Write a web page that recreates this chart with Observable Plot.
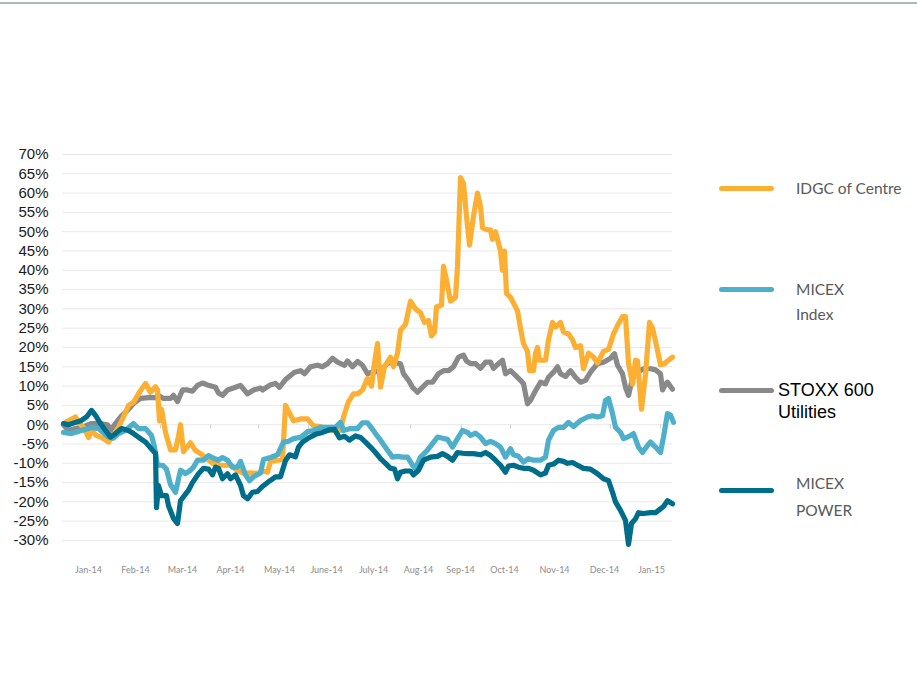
<!DOCTYPE html>
<html>
<head>
<meta charset="utf-8">
<script src="https://cdn.jsdelivr.net/npm/d3@7"></script>
<script src="https://cdn.jsdelivr.net/npm/@observablehq/plot@0.6"></script>
<style>
  html, body { margin: 0; padding: 0; background: #fff; overflow: hidden; }
  #wrap { position: relative; width: 917px; height: 681px; }
  #topline { position: absolute; left: 0; top: 2px; width: 917px; height: 2px; background: #b0b5ba; }
  .lg-line { position: absolute; left: 719px; width: 55px; height: 5px; border-radius: 3px; }
  .lg-text { position: absolute; font-family: Lato, "Open Sans", sans-serif; font-size: 15.5px; color: #595959; white-space: nowrap; }
  .lg-text2 { position: absolute; font-family: "Liberation Sans", Arial, sans-serif; font-size: 18px; color: #000; line-height: 22px; white-space: nowrap; }
</style>
</head>
<body>
<div id="wrap">
  <div id="chart"></div>
  <div id="topline"></div>
  <div id="legend"></div>
</div>
<script>
// ---- data (x = trading-day index, y = % change since start) ----
const seriesNames = ["IDGC of Centre", "MICEX Index", "STOXX 600 Utilities", "MICEX POWER"];
const seriesColors = ["#FBB034", "#4EAFCB", "#898989", "#006E8B"];

const months = ["Jan-14","Feb-14","Mar-14","Apr-14","May-14","June-14","July-14","Aug-14","Sep-14","Oct-14","Nov-14","Dec-14","Jan-15"];
const monthLabelDay = [13, 36.5, 60, 84, 108.5, 132, 155.5, 178, 199, 221, 246, 271, 294.5];
const monthTickDay = [24, 49, 74, 98, 123, 148, 174, 199.5, 224, 249, 274, 299];
const yTicks = [-30,-25,-20,-15,-10,-5,0,5,10,15,20,25,30,35,40,45,50,55,60,65,70];

const idgc = [[0.5,0.3],[3,1],[6.5,2],[8,0.5],[10.5,-0.7],[13,-3.3],[14.5,-1.5],[17,-2.8],[19.5,-3.3],[23,-4.5],[24.5,-3.5],[28,-0.7],[30.5,2],[33,5],[35.5,5.8],[38,8],[41.5,10.7],[44,8.4],[46.5,9.8],[47.5,9],[48.5,1],[49.5,4],[51.5,-2],[54,-6.5],[56.5,-6.5],[58,-3],[59,0],[60.5,-7],[64,-4.7],[66.5,-6.7],[69,-7.5],[71.5,-8.5],[75,-10],[79,-10.5],[84,-10.5],[86.5,-11.5],[90.5,-12.6],[94,-12.5],[97.5,-12.6],[100,-12],[102.5,-12.3],[104,-9.5],[110,-9],[111.5,5],[113.5,3],[115.5,1],[119,1.5],[122.5,1.5],[125.5,-0.3],[129,-0.5],[132.5,-1.5],[135.5,-1.5],[139,-1.5],[140.5,2],[143,6],[145.5,8],[147.5,8],[150,9],[152.5,12],[154.5,10],[156,16],[157.5,21],[159,9.7],[161,15],[164,17.5],[165.5,15],[167.5,18.5],[169,24.5],[171.5,26],[174,32],[176.5,30],[179,29],[181,26.5],[183,27],[184.5,23],[186,24],[187,30.5],[189.5,31],[190.5,41],[192,37.5],[194,32],[196.5,33],[197.5,41],[199,64],[200.5,62.5],[202,54],[203.5,46.5],[205.5,54],[207.5,60],[209,56.5],[210,51],[212.5,50.5],[214,50.5],[215,48],[216.5,50],[219,45],[220,40],[221,45],[222,34],[224,33],[226,31],[227.5,29.5],[229,25],[230.5,21],[232.5,19],[233.5,14],[235.5,14],[236.5,18.5],[237.5,20],[238.5,16.7],[241.5,16.7],[243,22],[245,26.5],[246.5,25.3],[249,26.5],[250.5,24],[253,23.5],[255,22],[256.5,20],[259,20.5],[260.5,14.5],[263,18.5],[265.5,17.5],[267.5,16],[270.5,19],[273,19.5],[275.5,23.5],[277.5,25.7],[280,28],[281.5,28],[283,16],[285,10.5],[286.5,16.7],[287.5,16.5],[289.5,4],[291.5,13],[293.5,26.5],[295,25],[297,20.5],[299,15.5],[301,15.8],[302.5,16.5],[305,17.5]];

const micex = [[0.5,-2],[4.5,-2.3],[9.5,-1.5],[14.5,-0.7],[18,-1],[23,-3.2],[25.5,-3.5],[28,-2.3],[31.5,-1.5],[35.5,0.3],[38,-1],[41.5,-1],[44.5,-2.8],[46,-5.8],[47.5,-10.5],[50,-10.5],[52,-11.5],[54,-15.5],[56.5,-17.5],[59,-11.8],[61.5,-12.7],[64,-11.8],[65.5,-11],[67.5,-9.2],[70.5,-9.2],[73,-8],[75.5,-8.7],[78,-9.2],[80,-8.5],[82.5,-9.2],[85,-11],[87.5,-11],[89,-9.5],[91.5,-13],[93.5,-14.5],[95.5,-13.5],[99,-12.5],[100.5,-9],[104,-8.5],[107.5,-7.8],[110.5,-4.5],[113,-4.3],[115.5,-3.6],[119,-3.3],[122.5,-1.8],[125.5,-1.5],[129,-0.7],[134,-0.7],[136.5,-0.7],[139,0.6],[140.5,-1.5],[144,-1],[147.5,-1],[150,0.5],[152.5,0.5],[154,-0.5],[156.5,-2.3],[159,-4],[162.5,-6.6],[165,-8.4],[167.5,-8.2],[170,-8.4],[172.5,-8.4],[175,-10.5],[176.5,-11.3],[179,-8.4],[182.5,-6.6],[185,-4.9],[187.5,-3.2],[190,-3.5],[192.5,-3.8],[195,-5.8],[197.5,-3.6],[200,-1.5],[202.5,-2],[204,-2.8],[206.5,-2.2],[209,-3.2],[211.5,-4.9],[214,-4.3],[216.5,-4.9],[219,-5.8],[221.5,-8.4],[224,-6.2],[225.5,-7.8],[228,-8.2],[230.5,-9.7],[233,-8.8],[235.5,-9.2],[239,-9.2],[241.5,-8.4],[243,-4],[245.5,-1.5],[248,-0.7],[250.5,-0.7],[253,0.6],[255.5,-0.5],[259,1.1],[262.5,2],[265,2.3],[267.5,2],[270,2.3],[271.5,6.3],[273,6.8],[275,2.9],[276.5,-0.7],[279,-2],[280.5,-3.6],[282.5,-3.2],[284,-2.8],[285.5,-2.3],[288,-5.8],[290,-7.2],[292.5,-5.4],[294,-4.5],[296.5,-5.8],[299,-7.2],[300.5,-3.2],[302.5,2.9],[304,2.5],[305.5,0.6]];

const stoxx = [[0.5,0],[3,-1.5],[6.5,-1],[9.5,-0.7],[14.5,0.3],[19,0.3],[22.5,0],[24,-1.5],[26.5,0.3],[29,2],[32.5,3.7],[35.5,5.5],[39,6.8],[43,7],[46.5,7],[48,7.6],[50.5,6.8],[54,6.8],[55.5,7.6],[57.5,6],[60,9],[62.5,9],[65,8.7],[67.5,10.2],[70,10.8],[73,10.2],[76.5,9.7],[78,8.2],[80,7.6],[82.5,9],[85.5,9.5],[89,10.2],[92.5,8],[95.5,9],[99,9.5],[100,9],[103.5,10.2],[106.5,10.7],[108.5,9.7],[111.5,11.7],[116,13.6],[119,14],[121,13.2],[124,15],[127.5,15.4],[130,15],[132.5,15.8],[135,17.2],[137.5,16.2],[141,15.4],[142.5,16.5],[145,15],[147.5,16.4],[150,15.4],[152.5,13.2],[154,13.5],[155.5,13.6],[159,14],[162.5,15.9],[165,16.2],[169,15.8],[170.5,13.2],[173,11.5],[175,9.7],[177.5,8.4],[180,9.7],[182.5,11],[185,11],[188,13.2],[190.5,14],[193,14],[195.5,15],[198,17.5],[200.5,18],[202,16.5],[204,15.8],[206.5,15.8],[209,14.6],[211.5,16.2],[214,16.2],[215.5,14.6],[218,15.8],[220,16.7],[221.5,13.2],[224,14],[226.5,12.8],[229,11.5],[230.5,10.6],[232.5,5.4],[234,6.3],[236.5,8.8],[239,11],[241.5,10.6],[243,12.3],[245.5,13.6],[247.5,15],[249,13.2],[251.5,12.5],[254,14],[256.5,12.3],[259,11],[261.5,11.5],[264,13.6],[267.5,15.8],[270.5,16.2],[274,17.2],[276,18.4],[277.5,15.4],[280,13.2],[281.5,9.7],[283,7.6],[285,12],[287.5,13.6],[290.5,14.5],[294,14.5],[296.5,14.2],[299,13.2],[300,9],[301.5,10.5],[302.5,11],[305,9.2]];

const power = [[0.5,0.3],[3,0],[6.5,0.6],[9.5,1.1],[12,2],[14.5,3.7],[16.5,2.4],[19,0.3],[21.5,-1.5],[24,-3.2],[26.5,-2.3],[29.5,-1],[33,-1.5],[35.5,-2.3],[39,-3.6],[41.5,-4.5],[44,-6],[46.5,-7.5],[47,-21.5],[48,-15.8],[49.5,-18.4],[52,-18.4],[53,-21],[55.5,-24.3],[57.5,-25.6],[59,-19.7],[61.5,-18],[63,-17],[65,-15],[68,-12.7],[70.5,-11.3],[73,-11.5],[75,-13],[76.5,-11],[78,-11.3],[80,-14],[82.5,-12.7],[84,-14],[86.5,-13],[89,-15.7],[90.5,-18.4],[92.5,-19.2],[95,-17.5],[97.5,-17.3],[100,-16],[103.5,-14.6],[106.5,-13.5],[109,-13.5],[111.5,-9.3],[113.5,-7.8],[116.5,-8.3],[118,-5.8],[120,-4.5],[123.5,-3.3],[126.5,-2.5],[130,-2],[133.5,-1.3],[136,-1.2],[138.5,-3.4],[141,-3],[143.5,-4],[146.5,-2.9],[149,-3.3],[151.5,-4.5],[154,-5.8],[156.5,-7.2],[159,-8.8],[161.5,-10],[164,-11.3],[166,-11.5],[167.5,-14],[169,-12.3],[171.5,-12],[174,-12],[175.5,-13],[178,-11.8],[180.5,-9.2],[184,-8.4],[187.5,-8.2],[190,-7.5],[192.5,-8.2],[195,-9.2],[197.5,-7.2],[200,-7.4],[202.5,-7.5],[205.5,-7.5],[209,-7.8],[211.5,-7.2],[214,-8],[216.5,-9.2],[219,-10.5],[221.5,-12.3],[223,-10.7],[225.5,-10.5],[228,-11],[230.5,-11.3],[233,-11.3],[235.5,-11.8],[239,-13],[241.5,-12.5],[243,-10.5],[245.5,-10.2],[248,-9.2],[250.5,-9.5],[252.5,-10],[255,-9.8],[257.5,-10.5],[260.5,-11.3],[264,-11.5],[267.5,-12.7],[270.5,-14],[273,-14.5],[275,-17.5],[276.5,-20],[279,-22.2],[281.5,-24.8],[283,-31],[284.5,-25.6],[286.5,-24.4],[288,-22.8],[290.5,-23],[294,-22.8],[296.5,-22.8],[299,-21.8],[300.5,-21.2],[302.5,-19.7],[305,-20.5]];

// ---- build ----
const seriesData = [idgc, micex, stoxx, power];
const toRows = (arr, name) => arr.map(([t, v]) => ({t, v, series: name}));
const drawOrder = [2, 0, 1, 3]; // gray, orange, light blue, dark teal
const labelByDay = new Map(monthLabelDay.map((d, i) => [d, months[i]]));

const chart = Plot.plot({
  width: 917,
  height: 681,
  marginLeft: 62,
  marginRight: 245,
  marginTop: 154,
  marginBottom: 141,
  style: {background: "transparent", fontFamily: "'Liberation Sans', Arial, sans-serif"},
  x: {domain: [0, 305], label: null},
  y: {domain: [-30, 70], label: null},
  color: {domain: seriesNames, range: seriesColors},
  marks: [
    Plot.gridY(yTicks, {stroke: "#e9e9e9", strokeOpacity: 1, strokeWidth: 1}),
    Plot.ruleX(monthTickDay, {y1: 0, y2: -1.1, stroke: "#d2d2d2", strokeWidth: 1}),
    Plot.axisY(yTicks, {label: null, tickSize: 0, tickPadding: 14, tickFormat: d => d + "%", fontSize: 15, fill: "#1a1a1a"}),
    Plot.axisX(monthLabelDay, {label: null, tickSize: 0, tickPadding: 26, tickFormat: d => labelByDay.get(d), fontSize: 9, fill: "#8c8c8c", fontFamily: "Lato, 'Open Sans', sans-serif"}),
    ...drawOrder.map(i => Plot.line(toRows(seriesData[i], seriesNames[i]), {
      x: "t", y: "v", stroke: "series", strokeWidth: 5.2, strokeLinejoin: "round", strokeLinecap: "round"
    }))
  ]
});
document.getElementById("chart").appendChild(chart);

// ---- legend ----
const legendLineY = [188, 289, 390, 490];
const legendLines = [["IDGC of Centre"], ["MICEX", "Index"], ["STOXX 600", "Utilities"], ["MICEX", "POWER"]];
const legend = document.getElementById("legend");
seriesNames.forEach((name, i) => {
  const ln = document.createElement("div");
  ln.className = "lg-line";
  ln.style.top = (legendLineY[i] - 2.5) + "px";
  ln.style.background = seriesColors[i];
  legend.appendChild(ln);
  const lines = legendLines[i];
  if (i === 2) {
    const t = document.createElement("div");
    t.className = "lg-text2";
    t.style.left = "778px";
    t.style.top = (legendLineY[i] - 11) + "px";
    t.innerHTML = lines.join("<br>");
    legend.appendChild(t);
  } else {
    const gap = i === 3 ? 27 : 25;
    const first = i === 3 ? legendLineY[i] - 7 : legendLineY[i];
    lines.forEach((s, k) => {
      const t = document.createElement("div");
      t.className = "lg-text";
      t.style.left = "796px";
      t.style.top = (first + k * gap - 10) + "px";
      t.style.lineHeight = "20px";
      t.textContent = s;
      legend.appendChild(t);
    });
  }
});
</script>
</body>
</html>
